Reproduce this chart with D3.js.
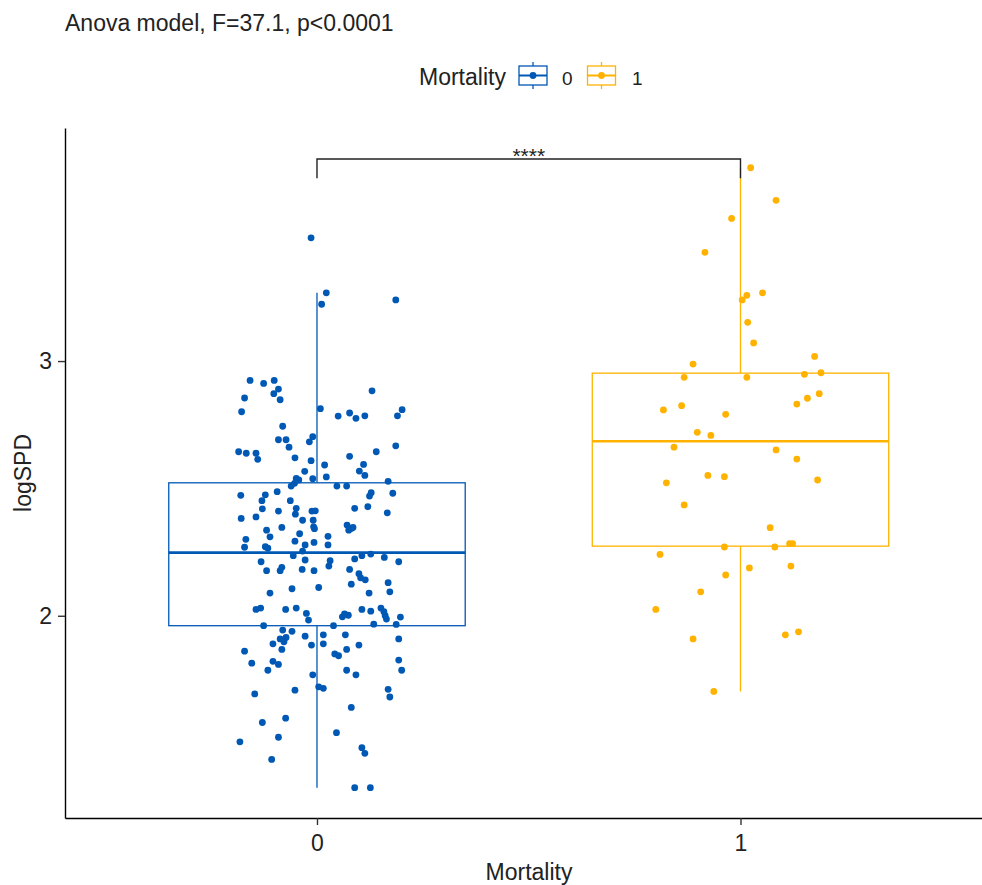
<!DOCTYPE html>
<html>
<head>
<meta charset="utf-8">
<script src="https://cdn.jsdelivr.net/npm/d3@7"></script>
<style>
  body { margin: 0; background: #fff; }
  text { font-family: "Liberation Sans", Arial, sans-serif; }
</style>
</head>
<body>
<div id="chart"></div>
<script>
// group labels and colours
const groups = ["0", "1"];
const colors = ["#0058B5", "#FFB300"];

// logSPD values, Mortality = 0
const spd0 = [3.484, 3.268, 3.223, 3.240, 2.924, 2.912, 2.924, 2.890, 2.872, 2.848,
  2.855, 2.801, 2.883, 2.813, 2.784, 2.796, 2.775, 2.785, 2.809, 2.785,
  2.744, 2.691, 2.691, 2.662, 2.683, 2.703, 2.644, 2.638, 2.638, 2.614,
  2.620, 2.609, 2.567, 2.538, 2.539, 2.533, 2.509, 2.520, 2.592, 2.545,
  2.626, 2.644, 2.667, 2.594, 2.568, 2.551, 2.528, 2.509, 2.509, 2.473,
  2.475, 2.452, 2.420, 2.487, 2.452, 2.422, 2.399, 2.411, 2.411, 2.412,
  2.382, 2.388, 2.375, 2.375, 2.349, 2.342, 2.347, 2.336, 2.310, 2.300, 2.269,
  2.271, 2.265, 2.293, 2.322, 2.278, 2.288, 2.312, 2.278, 2.422, 2.428,
  2.470, 2.483, 2.481, 2.404, 2.356, 2.343, 2.336, 2.347, 2.236, 2.254,
  2.219, 2.212, 2.177, 2.177, 2.190, 2.182, 2.177, 2.216, 2.195, 2.223,
  2.236, 2.242, 2.229, 2.212, 2.182, 2.165, 2.149, 2.141, 2.124, 2.130,
  2.094, 2.089, 2.111, 2.106, 2.089, 2.025, 2.030, 2.025, 2.030, 2.009,
  1.983, 1.996, 2.007, 2.002, 2.025, 2.018, 2.030, 2.016, 2.000, 1.987,
  1.995, 1.961, 1.944, 1.939, 1.961, 1.967, 1.966, 1.909, 1.915, 1.898,
  1.890, 1.868, 1.920, 1.885, 1.925, 1.890, 1.925, 1.885, 1.868, 1.850,
  1.843, 1.909, 1.861, 1.814, 1.821, 1.809, 1.786, 1.826, 1.786, 1.786,
  1.768, 1.768, 1.708, 1.721, 1.715, 1.693, 1.711, 1.681, 1.640, 1.581,
  1.598, 1.541, 1.523, 1.505, 1.482, 1.460, 1.436, 1.325, 1.325];

// horizontal jitter of each point (in category units)
const jitter0 = [-0.014, 0.022, 0.011, 0.186, -0.158, -0.126, -0.101, -0.091, -0.102, -0.087,
  -0.171, -0.178, 0.130, 0.008, 0.050, 0.077, 0.092, 0.113, 0.201, 0.190,
  -0.081, -0.091, -0.073, -0.066, -0.018, -0.010, -0.185, -0.167, -0.144, -0.140,
  -0.052, -0.014, -0.029, -0.010, -0.049, -0.043, -0.061, -0.053, 0.018, 0.022,
  0.077, 0.140, 0.186, 0.110, 0.100, 0.113, 0.168, 0.047, 0.070, -0.180,
  -0.122, -0.130, -0.129, -0.094, -0.063, -0.049, -0.051, -0.091, -0.012, -0.004,
  -0.179, -0.144, -0.034, -0.009, -0.008, -0.006, -0.083, -0.119, -0.111, -0.168, -0.171,
  -0.122, -0.116, -0.052, -0.041, -0.028, -0.007, 0.026, 0.026, 0.089, 0.120,
  0.124, 0.128, 0.179, 0.166, 0.071, 0.081, 0.075, 0.085, -0.056, -0.034,
  -0.028, -0.132, -0.119, -0.087, -0.083, -0.035, -0.007, 0.031, 0.028, 0.089,
  0.106, 0.127, 0.159, 0.193, 0.077, 0.099, 0.103, 0.114, 0.081, 0.168,
  0.172, 0.123, 0.004, -0.059, -0.111, -0.144, -0.133, -0.074, -0.049, -0.025,
  -0.020, 0.060, 0.065, 0.074, 0.106, 0.127, 0.151, 0.158, 0.161, 0.164,
  0.197, -0.126, -0.081, -0.059, 0.039, 0.134, 0.187, -0.087, -0.073, -0.078,
  -0.104, -0.083, -0.028, -0.013, 0.015, 0.015, 0.067, 0.099, 0.070, 0.042,
  0.051, 0.193, -0.171, -0.154, -0.104, -0.091, -0.116, 0.193, 0.200, 0.070,
  0.092, -0.010, -0.052, 0.004, 0.015, -0.147, 0.168, 0.172, 0.081, -0.129,
  -0.074, 0.046, -0.091, -0.182, 0.106, 0.113, -0.107, 0.089, 0.126];

// logSPD values, Mortality = 1
const spd1 = [3.759, 3.631, 3.560, 3.427, 3.268, 3.258, 3.240, 3.152, 3.071, 3.018,
  2.988, 2.936, 2.936, 2.948, 2.954, 2.872, 2.854, 2.831, 2.808, 2.825,
  2.791, 2.720, 2.708, 2.662, 2.651, 2.615, 2.551, 2.546, 2.522, 2.533,
  2.435, 2.346, 2.270, 2.270, 2.283, 2.283, 2.241, 2.188, 2.195, 2.160,
  2.094, 2.025, 1.909, 1.925, 1.937, 1.703];

const jitter1 = [0.024, 0.084, -0.021, -0.084, 0.052, 0.015, 0.004, 0.017, 0.031, 0.175,
  -0.112, -0.133, 0.015, 0.151, 0.190, 0.186, 0.158, 0.133, -0.182, -0.139,
  -0.035, -0.102, -0.070, -0.157, 0.084, 0.133, -0.077, -0.038, -0.175, 0.182,
  -0.133, 0.070, -0.038, 0.081, 0.116, 0.123, -0.190, 0.021, 0.119, -0.035,
  -0.094, -0.200, -0.112, 0.106, 0.137, -0.063];

const yTicks = [2, 3];
const title = "Anova model, F=37.1, p<0.0001";
const sigLabel = "****";
const bracketAt = 3.793;   // height of the comparison bracket
const bracketTip = 3.718;  // lower end of its legs

const width = 982, height = 885;
const font = 23;

const svg = d3.select("#chart").append("svg")
    .attr("width", width)
    .attr("height", height);

svg.append("rect").attr("width", width).attr("height", height).attr("fill", "#fff");

const x = d3.scaleLinear()
    .domain([-0.595, 1.6])
    .range([65, 994.6]);

const y = d3.scaleLinear()
    .domain([1.206, 3.915])
    .range([818, 128]);

const boxWidth = 0.7;

const data = [
    spd0.map((v, i) => ({g: 0, v: v, j: jitter0[i]})),
    spd1.map((v, i) => ({g: 1, v: v, j: jitter1[i]}))
];

function boxStats(vals) {
    const s = vals.slice().sort(d3.ascending);
    const q1 = d3.quantile(s, 0.25), med = d3.quantile(s, 0.5), q3 = d3.quantile(s, 0.75);
    const iqr = q3 - q1;
    const lo = d3.min(s.filter(v => v >= q1 - 1.5 * iqr));
    const hi = d3.max(s.filter(v => v <= q3 + 1.5 * iqr));
    return {q1, med, q3, lo, hi};
}

// boxes
data.forEach((pts, gi) => {
    const st = boxStats(pts.map(d => d.v));
    const g = svg.append("g").attr("stroke", colors[gi]).attr("fill", "none");
    const cx = x(gi);
    g.append("line").attr("x1", cx).attr("x2", cx).attr("y1", y(st.hi)).attr("y2", y(st.q3)).attr("stroke-width", 1.3);
    g.append("line").attr("x1", cx).attr("x2", cx).attr("y1", y(st.q1)).attr("y2", y(st.lo)).attr("stroke-width", 1.3);
    g.append("rect")
        .attr("x", x(gi - boxWidth / 2))
        .attr("y", y(st.q3))
        .attr("width", x(gi + boxWidth / 2) - x(gi - boxWidth / 2))
        .attr("height", y(st.q1) - y(st.q3))
        .attr("fill", "#fff")
        .attr("stroke-width", 1.3);
    g.append("line")
        .attr("x1", x(gi - boxWidth / 2)).attr("x2", x(gi + boxWidth / 2))
        .attr("y1", y(st.med)).attr("y2", y(st.med))
        .attr("stroke-width", 2.6);
});

// jittered points
data.forEach((pts, gi) => {
    svg.append("g")
        .selectAll("circle")
        .data(pts)
        .join("circle")
        .attr("cx", d => x(d.g + d.j))
        .attr("cy", d => y(d.v))
        .attr("r", 3.4)
        .attr("fill", colors[gi]);
});

// significance bracket
svg.append("path")
    .attr("d", `M${x(0)},${y(bracketTip)}V${y(bracketAt)}H${x(1)}V${y(bracketTip)}`)
    .attr("fill", "none")
    .attr("stroke", "#222")
    .attr("stroke-width", 1.4);

svg.append("text")
    .attr("x", x(0.5))
    .attr("y", y(bracketAt) + 4)
    .attr("text-anchor", "middle")
    .attr("font-size", 21)
    .attr("fill", "#222")
    .text(sigLabel);

// axes
const yAxis = svg.append("g")
    .attr("transform", `translate(${x.range()[0]},0)`)
    .call(d3.axisLeft(y).tickValues(yTicks).tickFormat(d3.format("d")).tickSize(7).tickSizeOuter(0).tickPadding(6));

const xAxis = svg.append("g")
    .attr("transform", `translate(0,${y.range()[0]})`)
    .call(d3.axisBottom(x).tickValues([0, 1]).tickFormat(i => groups[i]).tickSize(7).tickSizeOuter(0).tickPadding(10));

[yAxis, xAxis].forEach(a => {
    a.select(".domain").attr("stroke", "#000").attr("stroke-width", 1.4);
    a.selectAll(".tick line").attr("stroke", "#333").attr("stroke-width", 1.4);
    a.selectAll(".tick text").attr("font-size", font).attr("fill", "#222")
        .attr("font-family", "Liberation Sans, Arial, sans-serif");
});

// axis titles
svg.append("text")
    .attr("x", 529)
    .attr("y", 880)
    .attr("text-anchor", "middle")
    .attr("font-size", font)
    .attr("fill", "#222")
    .text("Mortality");

svg.append("text")
    .attr("transform", `translate(31,${(y.range()[0] + y.range()[1]) / 2}) rotate(-90)`)
    .attr("text-anchor", "middle")
    .attr("font-size", font)
    .attr("fill", "#222")
    .text("logSPD");

// title
svg.append("text")
    .attr("x", 65)
    .attr("y", 31)
    .attr("font-size", font)
    .attr("fill", "#222")
    .text(title);

// legend
const legend = svg.append("g");
legend.append("text")
    .attr("x", 419).attr("y", 85)
    .attr("font-size", font).attr("fill", "#222")
    .text("Mortality");

const keyX = [519, 587.5];
const labX = [562, 632];
groups.forEach((lab, i) => {
    const k = legend.append("g").attr("stroke", colors[i]).attr("fill", "none").attr("stroke-width", 1.3);
    const cx = keyX[i] + 14;
    k.append("line").attr("x1", cx).attr("x2", cx).attr("y1", 62).attr("y2", 66);
    k.append("line").attr("x1", cx).attr("x2", cx).attr("y1", 85).attr("y2", 89);
    k.append("rect").attr("x", keyX[i]).attr("y", 66).attr("width", 28).attr("height", 19);
    k.append("line").attr("x1", keyX[i]).attr("x2", keyX[i] + 28).attr("y1", 75.5).attr("y2", 75.5).attr("stroke-width", 2);
    k.append("circle").attr("cx", cx).attr("cy", 75.5).attr("r", 3.4).attr("fill", colors[i]).attr("stroke", "none");
    legend.append("text")
        .attr("x", labX[i]).attr("y", 85)
        .attr("font-size", 19).attr("fill", "#222")
        .text(lab);
});
</script>
</body>
</html>
